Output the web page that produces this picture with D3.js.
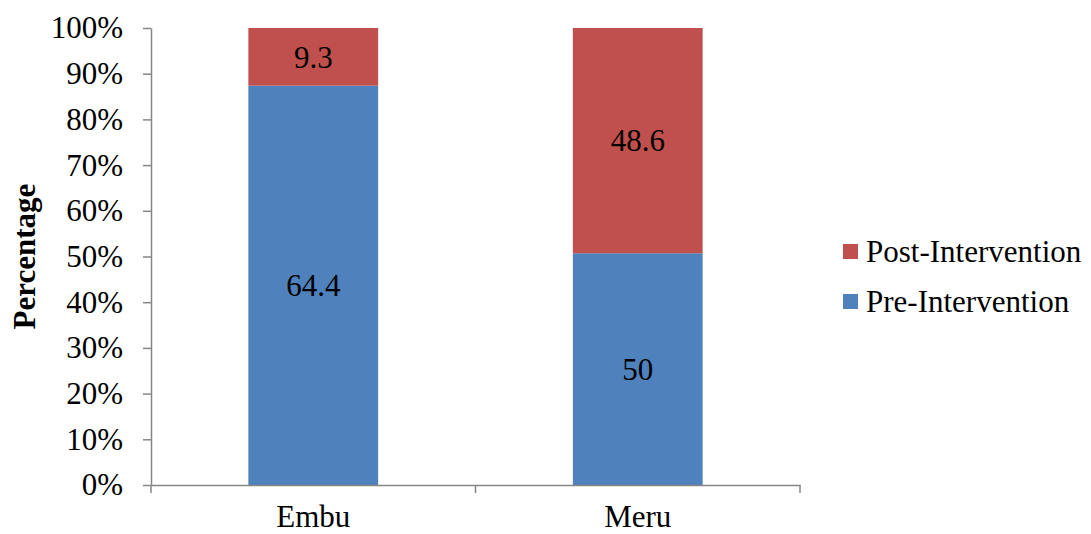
<!DOCTYPE html>
<html><head><meta charset="utf-8">
<script src="https://cdn.jsdelivr.net/npm/d3@7"></script>
<style>body{margin:0;background:#fff}svg text{font-family:"Liberation Serif","Times New Roman",serif;fill:#000}</style>
</head><body><svg id="c" width="1091" height="534"></svg>
<script>
const categories = ["Embu", "Meru"];
const preValues = [64.4, 50];
const postValues = [9.3, 48.6];
const seriesNames = ["Pre-Intervention", "Post-Intervention"];
const yTicks = [0, 10, 20, 30, 40, 50, 60, 70, 80, 90, 100];

const FS = "31px";
const FF = "'Liberation Serif', 'Times New Roman', serif";
const svg = d3.select("#c");
const m = {l: 151, r: 291, t: 28, b: 49};
const W = 1091, H = 534;
const x = d3.scaleBand().domain(categories).range([m.l, W - m.r]).paddingInner(0.6).paddingOuter(0.3);
const y = d3.scaleLinear().domain([0, 100]).range([H - m.b, m.t]);

const rows = categories.map((c, i) => {
  const tot = preValues[i] + postValues[i];
  return {cat: c, pre: preValues[i] / tot * 100, post: postValues[i] / tot * 100, preRaw: preValues[i], postRaw: postValues[i]};
});
const stack = d3.stack().keys(["pre", "post"])(rows);
const colors = {pre: "#4F81BD", post: "#C0504D"};

const g = svg.append("g");
stack.forEach(s => {
  g.selectAll(null).data(s).join("rect")
    .attr("x", d => x(d.data.cat))
    .attr("width", x.bandwidth())
    .attr("y", d => y(d[1]))
    .attr("height", d => y(d[0]) - y(d[1]))
    .attr("fill", colors[s.key]);
  g.selectAll(null).data(s).join("text")
    .attr("x", d => x(d.data.cat) + x.bandwidth() / 2)
    .attr("y", d => (y(d[0]) + y(d[1])) / 2)
    .attr("dy", "0.35em")
    .attr("text-anchor", "middle")
    .style("font-family", FF)
    .style("font-size", FS)
    .text(d => d.data[s.key + "Raw"]);
});

// y axis
const ya = svg.append("g").attr("transform", `translate(${m.l},0)`)
  .call(d3.axisLeft(y).tickValues(yTicks).tickFormat(d => d + "%").tickSize(8).tickSizeOuter(0));
ya.attr("font-family", null);
ya.select(".domain").attr("stroke", "#868686").attr("stroke-width", 1.5);
ya.selectAll(".tick line").attr("stroke", "#868686").attr("stroke-width", 1.5);
ya.selectAll(".tick text").attr("x", -28).style("font-family", FF).style("font-size", FS).attr("fill", "#000");

// x axis
const xa = svg.append("g").attr("transform", `translate(0,${H - m.b})`)
  .call(d3.axisBottom(x).tickSize(0).tickSizeOuter(0));
xa.attr("font-family", null);
xa.select(".domain").attr("stroke", "#868686").attr("stroke-width", 1.5);
xa.selectAll(".tick text").attr("dy", 0).attr("y", 42).style("font-family", FF).style("font-size", FS).attr("fill", "#000");
// category boundary ticks
const bounds = [m.l, (x(categories[0]) + x.bandwidth() + x(categories[1])) / 2, W - m.r];
xa.selectAll(".bt").data(bounds).join("line")
  .attr("x1", d => d).attr("x2", d => d).attr("y1", 0).attr("y2", 8)
  .attr("stroke", "#868686").attr("stroke-width", 1.5);

// y title
svg.append("text")
  .attr("transform", `translate(35,${(m.t + H - m.b) / 2}) rotate(-90)`)
  .attr("text-anchor", "middle")
  .style("font-family", FF)
  .style("font-size", FS).style("font-weight", "bold")
  .text("Percentage");

// legend
const legend = [{k: "post", name: seriesNames[1]}, {k: "pre", name: seriesNames[0]}];
const lg = svg.append("g");
legend.forEach((d, i) => {
  const yy = 251 + i * 50;
  lg.append("rect").attr("x", 843).attr("y", yy - 7).attr("width", 15).attr("height", 15).attr("fill", colors[d.k]);
  lg.append("text").attr("x", 866).attr("y", yy).attr("dy", "0.35em").style("font-family", FF).style("font-size", FS).text(d.name);
});
</script></body></html>
